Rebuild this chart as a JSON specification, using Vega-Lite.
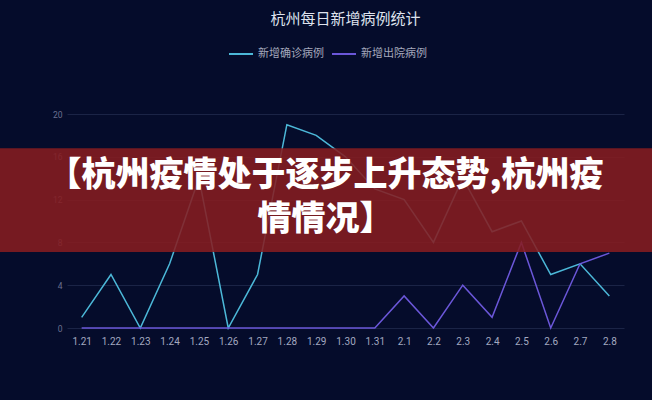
{
  "$schema": "https://vega.github.io/schema/vega-lite/v6.json",
  "width": 557,
  "height": 214,
  "autosize": {"type": "none"},
  "padding": {"left": 67, "top": 114, "right": 28, "bottom": 72},
  "background": "#050c2b",
  "title": {
    "text": "杭州每日新增病例统计",
    "anchor": "middle",
    "frame": "group",
    "offset": 14,
    "font": "Noto Sans CJK SC",
    "fontSize": 15,
    "fontWeight": "normal",
    "color": "#dfe3ee"
  },
  "config": {"view": {"stroke": null}, "font": "Noto Sans CJK SC"},
  "layer": [
    {
      "data": {
        "values": [
          {"date": "1.21", "series": "新增确诊病例", "value": 1},
          {"date": "1.22", "series": "新增确诊病例", "value": 5},
          {"date": "1.23", "series": "新增确诊病例", "value": 0},
          {"date": "1.24", "series": "新增确诊病例", "value": 6},
          {"date": "1.25", "series": "新增确诊病例", "value": 14},
          {"date": "1.26", "series": "新增确诊病例", "value": 0},
          {"date": "1.27", "series": "新增确诊病例", "value": 5},
          {"date": "1.28", "series": "新增确诊病例", "value": 19},
          {"date": "1.29", "series": "新增确诊病例", "value": 18},
          {"date": "1.30", "series": "新增确诊病例", "value": 16},
          {"date": "1.31", "series": "新增确诊病例", "value": 13},
          {"date": "2.1", "series": "新增确诊病例", "value": 12},
          {"date": "2.2", "series": "新增确诊病例", "value": 8},
          {"date": "2.3", "series": "新增确诊病例", "value": 14},
          {"date": "2.4", "series": "新增确诊病例", "value": 9},
          {"date": "2.5", "series": "新增确诊病例", "value": 10},
          {"date": "2.6", "series": "新增确诊病例", "value": 5},
          {"date": "2.7", "series": "新增确诊病例", "value": 6},
          {"date": "2.8", "series": "新增确诊病例", "value": 3},
          {"date": "1.21", "series": "新增出院病例", "value": 0},
          {"date": "1.22", "series": "新增出院病例", "value": 0},
          {"date": "1.23", "series": "新增出院病例", "value": 0},
          {"date": "1.24", "series": "新增出院病例", "value": 0},
          {"date": "1.25", "series": "新增出院病例", "value": 0},
          {"date": "1.26", "series": "新增出院病例", "value": 0},
          {"date": "1.27", "series": "新增出院病例", "value": 0},
          {"date": "1.28", "series": "新增出院病例", "value": 0},
          {"date": "1.29", "series": "新增出院病例", "value": 0},
          {"date": "1.30", "series": "新增出院病例", "value": 0},
          {"date": "1.31", "series": "新增出院病例", "value": 0},
          {"date": "2.1", "series": "新增出院病例", "value": 3},
          {"date": "2.2", "series": "新增出院病例", "value": 0},
          {"date": "2.3", "series": "新增出院病例", "value": 4},
          {"date": "2.4", "series": "新增出院病例", "value": 1},
          {"date": "2.5", "series": "新增出院病例", "value": 8},
          {"date": "2.6", "series": "新增出院病例", "value": 0},
          {"date": "2.7", "series": "新增出院病例", "value": 6},
          {"date": "2.8", "series": "新增出院病例", "value": 7}
        ]
      },
      "mark": {"type": "line", "strokeWidth": 1.5},
      "encoding": {
        "x": {
          "field": "date",
          "type": "nominal",
          "scale": {"type": "point", "padding": 0.5},
          "axis": {
            "title": null,
            "labelAngle": 0,
            "domain": false,
            "ticks": false,
            "grid": false,
            "labelColor": "#a3a9c0",
            "labelFontSize": 10,
            "labelFont": "Roboto",
            "labelPadding": 8
          }
        },
        "y": {
          "field": "value",
          "type": "quantitative",
          "scale": {"domain": [0, 20]},
          "axis": {
            "title": null,
            "values": [0, 2, 4, 6, 8, 10, 12, 14, 16, 18, 20],
            "domain": false,
            "ticks": false,
            "gridColor": "#1b2446",
            "gridWidth": 1,
            "labelColor": "#6b7190",
            "labelFontSize": 8.5,
            "labelFont": "Roboto",
            "labelPadding": 5
          }
        },
        "color": {
          "field": "series",
          "type": "nominal",
          "scale": {"domain": ["新增确诊病例", "新增出院病例"], "range": ["#4cb8d8", "#6b57d9"]},
          "legend": {
            "orient": "none",
            "legendX": 161,
            "legendY": -73,
            "direction": "horizontal",
            "title": null,
            "symbolType": "stroke",
            "symbolSize": 576,
            "symbolStrokeWidth": 2,
            "labelColor": "#a4a8bc",
            "labelFontSize": 11,
            "labelFont": "Noto Sans CJK SC",
            "columnPadding": 4,
            "labelOffset": 4
          }
        }
      }
    },
    {
      "data": {"values": [{"top": 16.8, "bottom": 7.1}]},
      "mark": {"type": "rect", "color": "#861c20", "opacity": 0.88},
      "encoding": {
        "x": {"value": -67},
        "x2": {"value": 585},
        "y": {"field": "top", "type": "quantitative"},
        "y2": {"field": "bottom"}
      }
    },
    {
      "data": {
        "values": [
          {"date": "1.30", "pos": 14.2, "label": "【杭州疫情处于逐步上升态势,杭州疫"},
          {"date": "1.30", "pos": 10.1, "label": "情情况】"}
        ]
      },
      "mark": {
        "type": "text",
        "font": "Noto Sans CJK SC",
        "fontSize": 34,
        "fontWeight": 900,
        "color": "#ffffff",
        "dx": -20,
        "align": "center",
        "baseline": "middle"
      },
      "encoding": {
        "x": {"field": "date", "type": "nominal"},
        "y": {"field": "pos", "type": "quantitative"},
        "text": {"field": "label"}
      }
    }
  ]
}
